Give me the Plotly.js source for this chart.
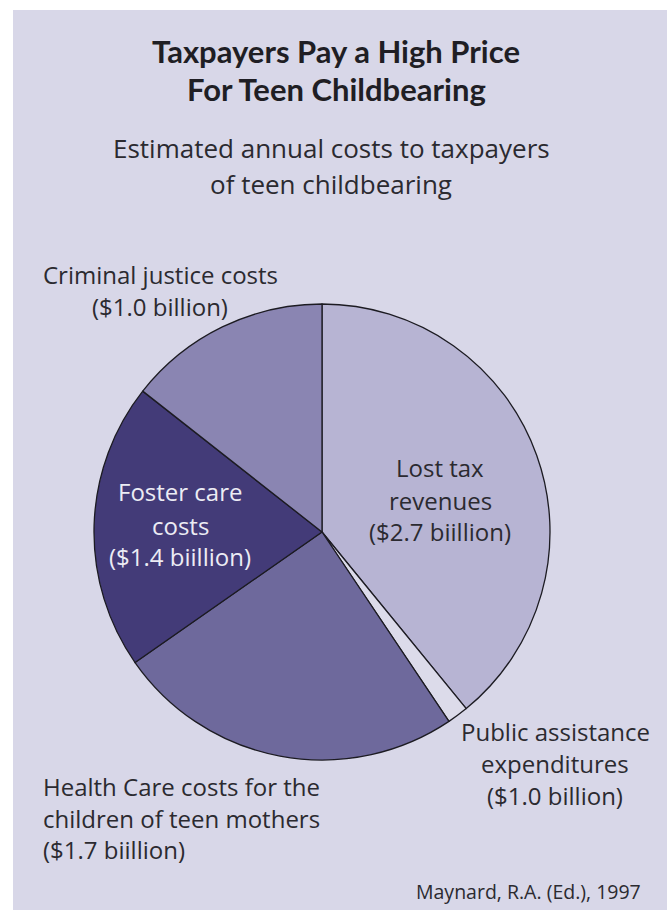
<!DOCTYPE html>
<html>
<head>
<meta charset="utf-8">
<script src="https://cdn.plot.ly/plotly-3.0.1.min.js"></script>
<style>html,body{margin:0;padding:0;background:#fff;}#chart{width:667px;height:910px;}</style>
</head>
<body>
<div id="chart"></div>
<script>
// Slice shares (percent of circle)
const categories = ["Lost tax revenues", "Public assistance expenditures", "Health Care costs for the children of teen mothers", "Foster care costs", "Criminal justice costs"];
const shares = [39.1, 1.5, 24.7, 20.3, 14.4];
const sliceColors = ["#b7b4d3", "#dcdbea", "#6e699c", "#433b78", "#8a85b2"];

// Label texts (as printed in the chart)
const labelLost = ["Lost tax", "revenues", "($2.7 biillion)"];
const labelPublic = ["Public assistance", "expenditures", "($1.0 billion)"];
const labelHealth = ["Health Care costs for the", "children of teen mothers", "($1.7 biillion)"];
const labelFoster = ["Foster care", "costs", "($1.4 biillion)"];
const labelCriminal = ["Criminal justice costs", "($1.0 billion)"];
const titleLines = ["Taxpayers Pay a High Price", "For Teen Childbearing"];
const subtitleLines = ["Estimated annual costs to taxpayers", "of teen childbearing"];
const sourceText = "Maynard, R.A. (Ed.), 1997";

const W = 667, H = 910;
const px = x => x / W;
const py = y => 1 - y / H;
const FONT = "'Open Sans', Lato, sans-serif";
const TEXTC = "#2b2a30";

const annotations = [];
function addLines(lines, x, ys, opts) {
  lines.forEach((t, i) => {
    annotations.push(Object.assign({
      text: t, xref: "paper", yref: "paper", x: px(x), y: py(ys[i]),
      xanchor: "center", yanchor: "middle", showarrow: false,
      font: {family: FONT, size: 24, color: TEXTC}
    }, opts || {}));
  });
}
addLines(titleLines, 336, [51, 89], {font: {family: "Lato, sans-serif", size: 31, color: "#1f1e24", weight: 700}});
addLines(subtitleLines, 331, [148, 184], {font: {family: FONT, size: 26, color: TEXTC}});
addLines(labelCriminal, 160, [274, 306]);
addLines(labelLost, 440, [468, 500, 531]);
addLines(labelFoster, 180, [492, 525, 556], {font: {family: FONT, size: 24, color: "#ececf4"}});
addLines(labelPublic, 555, [731, 763, 795]);
addLines(labelHealth, 41, [786, 818, 849], {xanchor: "left"});
annotations.push({text: sourceText, xref: "paper", yref: "paper", x: px(643), y: py(891),
  xanchor: "right", yanchor: "middle", showarrow: false,
  font: {family: FONT, size: 19.5, color: TEXTC}});

const cx = 322, cy = 532, r = 228;
const data = [{
  type: "pie",
  labels: categories,
  values: shares,
  sort: false,
  direction: "clockwise",
  rotation: 0,
  textinfo: "none",
  hoverinfo: "label",
  marker: {colors: sliceColors, line: {color: "#1c1b22", width: 1.3}},
  domain: {x: [px(cx - r), px(cx + r)], y: [py(cy + r), py(cy - r)]},
  showlegend: false
}];

const layout = {
  width: W, height: H,
  margin: {l: 0, r: 0, t: 0, b: 0},
  paper_bgcolor: "#ffffff",
  showlegend: false,
  shapes: [{type: "rect", xref: "paper", yref: "paper", x0: px(13), x1: 1, y0: 0, y1: py(10),
    fillcolor: "#d8d7e8", line: {width: 0}, layer: "below"}],
  annotations: annotations
};

Plotly.newPlot("chart", data, layout, {displayModeBar: false, staticPlot: true});
</script>
</body>
</html>
